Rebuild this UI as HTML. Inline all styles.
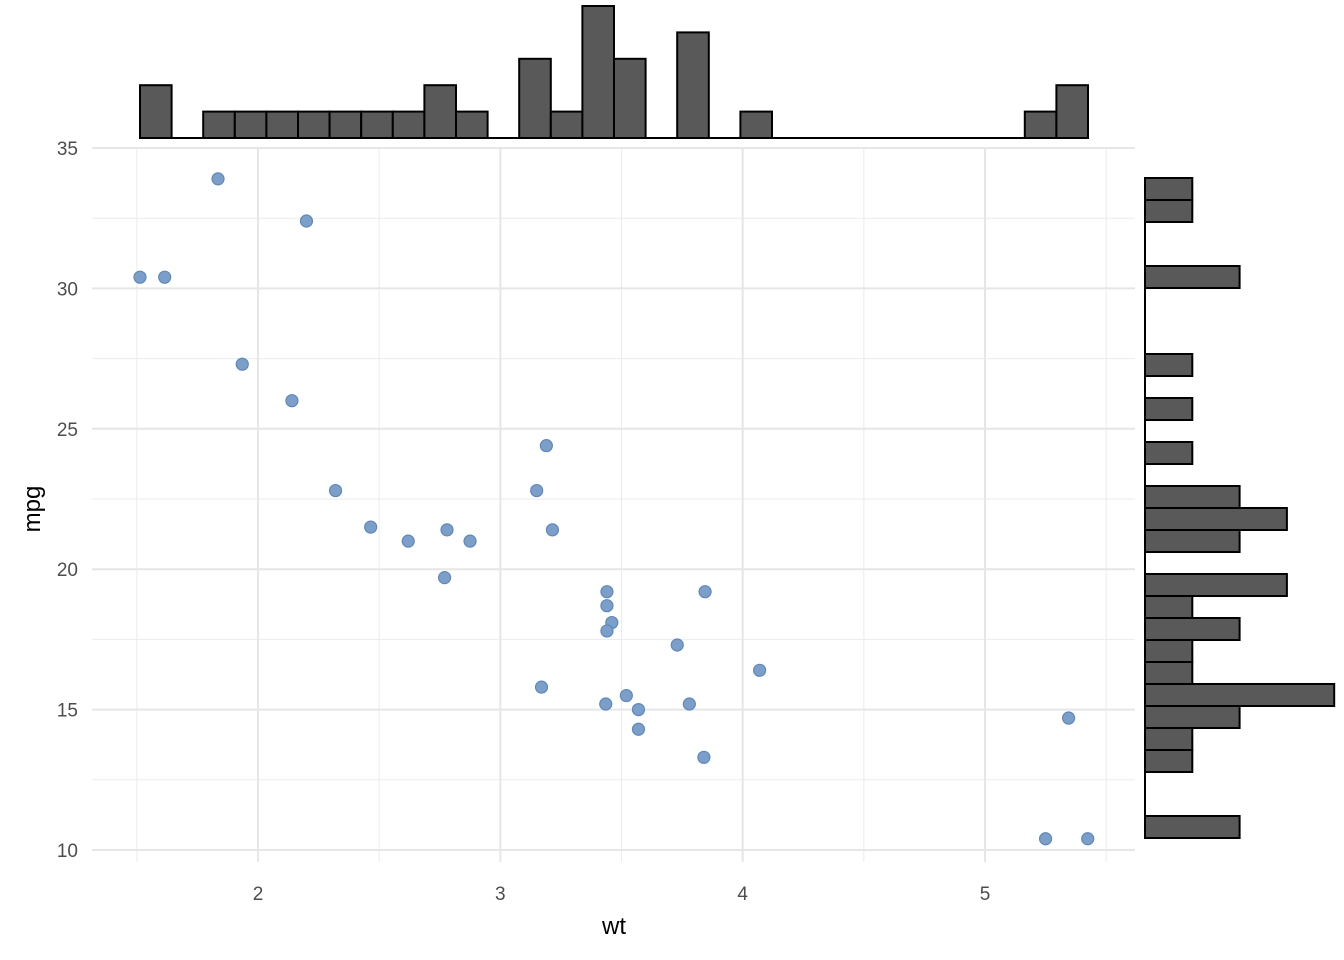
<!DOCTYPE html><html><head><meta charset="utf-8"><style>body{margin:0;background:#fff}svg{display:block}text{font-family:"Liberation Sans",Arial,sans-serif}</style></head><body>
<svg id="s" width="1344" height="960" xmlns="http://www.w3.org/2000/svg"></svg>
<script>
const s=document.getElementById('s');let h='';
const X=w=>258+(w-2)*242.33, Y=m=>850-(m-10)*28.08;
// grid
for(let v=1.5;v<=5.51;v+=1)h+=`<line x1="${X(v)}" x2="${X(v)}" y1="148" y2="862" stroke="#ebebeb" stroke-width="1"/>`;
for(let v=12.5;v<=32.6;v+=5)h+=`<line x1="92" x2="1135" y1="${Y(v)}" y2="${Y(v)}" stroke="#ebebeb" stroke-width="1"/>`;
for(let v=2;v<=5;v++){h+=`<line x1="${X(v)}" x2="${X(v)}" y1="148" y2="862" stroke="#e6e6e6" stroke-width="2"/><text x="${X(v)}" y="900" font-size="19" fill="#4d4d4d" text-anchor="middle">${v}</text>`;}
for(let v=10;v<=35;v+=5){h+=`<line x1="92" x2="1135" y1="${Y(v)}" y2="${Y(v)}" stroke="#e6e6e6" stroke-width="2"/><text x="78" y="${Y(v)+7}" font-size="19" fill="#4d4d4d" text-anchor="end">${v}</text>`;}
h+=`<text x="614" y="934" font-size="24" text-anchor="middle">wt</text><text transform="translate(40,509) rotate(-90)" font-size="24" text-anchor="middle">mpg</text>`;
// top hist
const tc=[2,0,1,1,1,1,1,1,1,2,1,0,3,1,5,3,0,4,0,1,0,0,0,0,0,0,0,0,1,2];const bw=(1088-140)/30;
h+=`<line x1="140" x2="1088" y1="138" y2="138" stroke="#000" stroke-width="2"/>`;
tc.forEach((c,i)=>{if(c)h+=`<rect x="${140+i*bw}" y="${138-c*26.4}" width="${bw}" height="${c*26.4}" fill="#595959" stroke="#000" stroke-width="2"/>`;});
// right hist
const rc=[1,1,0,0,2,0,0,0,1,0,1,0,1,0,2,3,2,0,3,1,2,1,1,4,2,1,1,0,0,2];
h+=`<line x1="1145" x2="1145" y1="178" y2="838" stroke="#000" stroke-width="2"/>`;
rc.forEach((c,i)=>{if(c)h+=`<rect x="1145" y="${178+i*22}" width="${c*47.3}" height="22" fill="#595959" stroke="#000" stroke-width="2"/>`;});
const d=[[2.62,21],[2.875,21],[2.32,22.8],[3.215,21.4],[3.44,18.7],[3.46,18.1],[3.57,14.3],[3.19,24.4],[3.15,22.8],[3.44,19.2],[3.44,17.8],[4.07,16.4],[3.73,17.3],[3.78,15.2],[5.25,10.4],[5.424,10.4],[5.345,14.7],[2.2,32.4],[1.615,30.4],[1.835,33.9],[2.465,21.5],[3.52,15.5],[3.435,15.2],[3.84,13.3],[3.845,19.2],[1.935,27.3],[2.14,26],[1.513,30.4],[3.17,15.8],[2.77,19.7],[3.57,15],[2.78,21.4]];
d.forEach(([w,m])=>h+=`<circle cx="${X(w)}" cy="${Y(m)}" r="6" fill="#7b9fc9" stroke="#5f88ba" stroke-width="1.2"/>`);
s.innerHTML=h;
</script></body></html>
